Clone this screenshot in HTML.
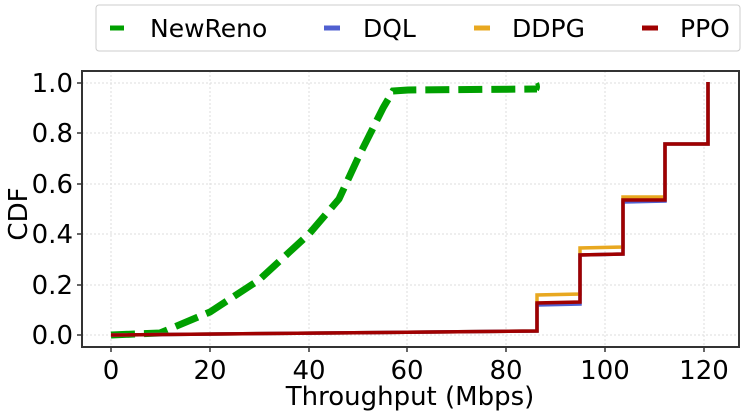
<!DOCTYPE html>
<html><head><style>body{margin:0;background:#fff}</style></head><body>
<svg width="749" height="414" xmlns="http://www.w3.org/2000/svg" font-family="DejaVu Sans, Liberation Sans, sans-serif">
<rect width="749" height="414" fill="#fff"/>
<g stroke="#ddd" stroke-width="1" stroke-dasharray="2,2">
<line x1="111" y1="71" x2="111" y2="347"/><line x1="210" y1="71" x2="210" y2="347"/><line x1="309" y1="71" x2="309" y2="347"/><line x1="407" y1="71" x2="407" y2="347"/><line x1="506" y1="71" x2="506" y2="347"/><line x1="605" y1="71" x2="605" y2="347"/><line x1="704" y1="71" x2="704" y2="347"/>
<line x1="82" y1="335" x2="739" y2="335"/><line x1="82" y1="285" x2="739" y2="285"/><line x1="82" y1="234" x2="739" y2="234"/><line x1="82" y1="184" x2="739" y2="184"/><line x1="82" y1="133" x2="739" y2="133"/><line x1="82" y1="83" x2="739" y2="83"/>
</g>
<path d="M111,335 L160,333 L210,312 L259,280 L309,234 L339,199 L358,158 L383,108 L393,91 L408,90 L537,89" fill="none" stroke="#00a000" stroke-width="7" stroke-dasharray="24,9"/>
<path d="M537,83 q2,4 0,7" stroke="#00a000" stroke-width="4" fill="none"/>
<path d="M111,335 L537,331 L537,295 L580,294 L580,248 L623,247 L623,197 L665,197 L665,144 L708,144 L708,82" fill="none" stroke="#e8a820" stroke-width="3.5"/>
<path d="M111,335 L537,331 L537,305 L580,304 L580,255 L623,254 L623,202 L665,201 L665,144 L708,144 L708,82" fill="none" stroke="#5060d0" stroke-width="3.5"/>
<path d="M111,335 L537,331 L537,303 L580,302 L580,255 L623,254 L623,200 L665,200 L665,144 L708,144 L708,82" fill="none" stroke="#a00000" stroke-width="3.5"/>
<rect x="82" y="71" width="657" height="276" fill="none" stroke="#333" stroke-width="2"/>
<g stroke="#333" stroke-width="1.5">
<line x1="111" y1="347" x2="111" y2="352"/><line x1="210" y1="347" x2="210" y2="352"/><line x1="309" y1="347" x2="309" y2="352"/><line x1="407" y1="347" x2="407" y2="352"/><line x1="506" y1="347" x2="506" y2="352"/><line x1="605" y1="347" x2="605" y2="352"/><line x1="704" y1="347" x2="704" y2="352"/>
<line x1="77" y1="335" x2="82" y2="335"/><line x1="77" y1="285" x2="82" y2="285"/><line x1="77" y1="234" x2="82" y2="234"/><line x1="77" y1="184" x2="82" y2="184"/><line x1="77" y1="133" x2="82" y2="133"/><line x1="77" y1="83" x2="82" y2="83"/>
</g>
<g font-size="26" fill="#000" text-anchor="middle">
<text x="111" y="379">0</text><text x="210" y="379">20</text><text x="309" y="379">40</text><text x="407" y="379">60</text><text x="506" y="379">80</text><text x="605" y="379">100</text><text x="704" y="379">120</text>
<text x="410" y="405">Throughput (Mbps)</text>
</g>
<g font-size="26" fill="#000" text-anchor="end">
<text x="73" y="344">0.0</text><text x="73" y="294">0.2</text><text x="73" y="243">0.4</text><text x="73" y="193">0.6</text><text x="73" y="142">0.8</text><text x="73" y="92">1.0</text>
</g>
<text transform="translate(27,214) rotate(-90)" font-size="26" text-anchor="middle">CDF</text>
<rect x="96" y="5" width="644" height="46" fill="#fff" stroke="#ccc" rx="3"/>
<g stroke-width="5">
<line x1="110" y1="28" x2="124" y2="28" stroke="#00a000"/>
<line x1="324" y1="28" x2="340" y2="28" stroke="#5060d0"/>
<line x1="474" y1="28" x2="490" y2="28" stroke="#e8a820"/>
<line x1="642" y1="28" x2="658" y2="28" stroke="#a00000"/>
</g>
<g font-size="25" fill="#000">
<text x="150" y="37">NewReno</text><text x="363" y="37">DQL</text><text x="512" y="37">DDPG</text><text x="680" y="37">PPO</text>
</g>
</svg>
</body></html>
